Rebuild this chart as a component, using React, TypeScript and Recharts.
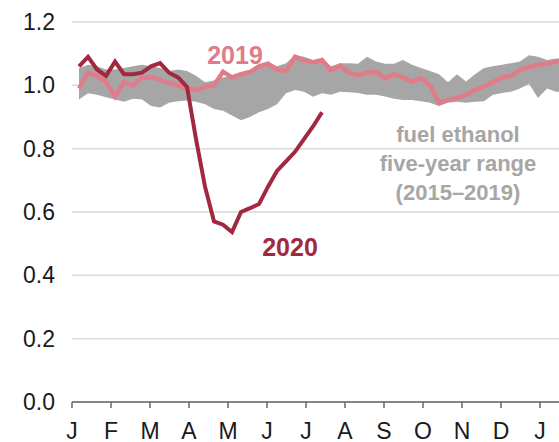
import { Area, CartesianGrid, ComposedChart, Line, XAxis, YAxis } from 'recharts';

// Weekly values, Jan 2019 through the first week of the next January
const y2019 = [
  0.99, 1.04, 1.03, 1.01, 0.965, 1.01, 1.0, 1.025, 1.025, 1.017,
  1.008, 1.0, 0.99, 0.985, 0.995, 1.0, 1.043, 1.025, 1.035, 1.042,
  1.06, 1.068, 1.05, 1.045, 1.09, 1.08, 1.072, 1.08, 1.047, 1.062,
  1.04, 1.032, 1.04, 1.043, 1.022, 1.035, 1.025, 1.012, 1.022, 1.0,
  0.945, 0.954, 0.96, 0.97, 0.985, 0.997, 1.01, 1.025, 1.03, 1.05,
  1.058, 1.065, 1.068, 1.075, 1.08,
];

const y2020 = [
  1.06, 1.09, 1.05, 1.03, 1.075, 1.035, 1.035, 1.04, 1.06, 1.07,
  1.04, 1.025, 0.995, 0.83, 0.68, 0.57, 0.56, 0.537, 0.6, 0.612,
  0.625, 0.68, 0.73, 0.76, 0.79, 0.83, 0.87, 0.915,
];

// five-year range (2015-2019)
const bandLow = [
  0.955, 0.975, 0.97, 0.962, 0.955, 0.948, 0.958, 0.955, 0.935, 0.93,
  0.945, 0.95, 0.952, 0.948, 0.94, 0.925, 0.92, 0.905, 0.89, 0.9,
  0.915, 0.925, 0.94, 0.975, 0.985, 0.98, 0.964, 0.975, 0.97, 0.98,
  0.978, 0.976, 0.97, 0.97, 0.965, 0.958, 0.954, 0.954, 0.95, 0.945,
  0.935, 0.945, 0.948, 0.945, 0.948, 0.95, 0.97, 0.976, 0.98, 0.99,
  1.005, 0.96, 0.99, 0.98, 0.98,
];

const bandHigh = [
  1.055, 1.065, 1.06, 1.05, 1.05, 1.055, 1.06, 1.065, 1.06, 1.055,
  1.045, 1.05, 1.045, 1.03, 1.01, 1.015, 1.025, 1.03, 1.035, 1.045,
  1.058, 1.07, 1.06, 1.07, 1.095, 1.09, 1.08, 1.085, 1.06, 1.07,
  1.07, 1.068, 1.09, 1.075, 1.068, 1.068, 1.08, 1.065, 1.055, 1.045,
  1.035, 1.01, 1.035, 1.012, 1.035, 1.055, 1.06, 1.065, 1.07, 1.075,
  1.095, 1.09, 1.08, 1.085, 1.085,
];

const monthLabels = ['J', 'F', 'M', 'A', 'M', 'J', 'J', 'A', 'S', 'O', 'N', 'D', 'J'];
const yTicks = [0, 0.2, 0.4, 0.6, 0.8, 1.0, 1.2];

const PINK = '#e07b89';
const RED = '#a2283f';
const BAND = '#a6a6a6';
const FONT = '"Liberation Sans", Arial, sans-serif';

// first weekly point sits a little after Jan 1
const OFFSET = 0.78;
const monthTicks = monthLabels.map((_, m) => (m * 52) / 12 - OFFSET);

const data = y2019.map((v, i) => ({
  i,
  range: [bandLow[i], bandHigh[i]],
  v2019: v,
  v2020: i < y2020.length ? y2020[i] : undefined,
}));

export default function App() {
  return (
    <div style={{ position: 'absolute', left: 0, top: 0, width: 559, height: 442, overflow: 'hidden', background: '#fff', fontFamily: FONT }}>
      <ComposedChart width={600} height={442} data={data} margin={{ top: 22, right: 0, bottom: 0, left: 12 }}>
        <CartesianGrid vertical={false} stroke="#dadada" strokeWidth={1.5} />
        <XAxis
          dataKey="i"
          type="number"
          domain={[-OFFSET, (600 - 79) / 9]}
          allowDataOverflow
          ticks={monthTicks}
          interval={0}
          tickFormatter={(v) => monthLabels[Math.round(((v + OFFSET) * 12) / 52)] ?? ''}
          stroke="#666"
          strokeWidth={1.5}
          tickSize={6}
          tickMargin={15}
          height={40}
          tick={{ fontSize: 23, fill: '#1a1a1a', fontFamily: FONT }}
        />
        <YAxis
          domain={[0, 1.2]}
          ticks={yTicks}
          tickFormatter={(v) => Number(v).toFixed(1)}
          axisLine={false}
          tickLine={false}
          tickMargin={11}
          width={60}
          tick={{ fontSize: 23, fill: '#1a1a1a', fontFamily: FONT }}
        />
        <Area dataKey="range" type="linear" stroke="none" fill={BAND} fillOpacity={1} isAnimationActive={false} />
        <Line dataKey="v2019" type="linear" stroke={PINK} strokeWidth={4.5} dot={false} isAnimationActive={false} />
        <Line dataKey="v2020" type="linear" stroke={RED} strokeWidth={4} dot={false} isAnimationActive={false} connectNulls={false} />
      </ComposedChart>
      <svg width={559} height={442} style={{ position: 'absolute', left: 0, top: 0, pointerEvents: 'none' }}>
        <text x={235} y={64} textAnchor="middle" fontSize={25} fontWeight="bold" fill={PINK} fontFamily={FONT}>2019</text>
        <text x={290} y={256} textAnchor="middle" fontSize={25} fontWeight="bold" fill={RED} fontFamily={FONT}>2020</text>
        <text textAnchor="middle" fontSize={22} fontWeight="bold" fill={BAND} fontFamily={FONT}>
          <tspan x={458} y={142}>fuel ethanol</tspan>
          <tspan x={458} y={171}>five-year range</tspan>
          <tspan x={458} y={200}>(2015–2019)</tspan>
        </text>
      </svg>
    </div>
  );
}
